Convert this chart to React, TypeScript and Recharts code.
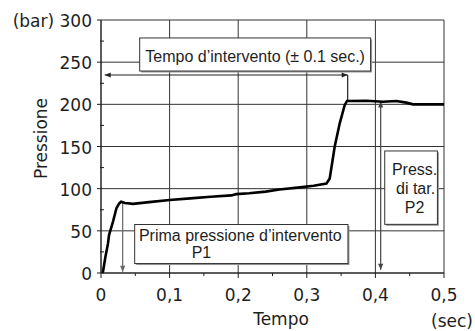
import { CartesianGrid, Label, Line, LineChart, ReferenceArea, ReferenceLine, XAxis, YAxis } from "recharts";

const time = [
  0.002, 0.003, 0.0064, 0.0102, 0.0117, 0.0175, 0.0224, 0.0265, 0.0293, 0.035, 0.0467, 0.07, 0.1, 0.13, 0.16, 0.19,
  0.197, 0.216, 0.24, 0.26, 0.29, 0.31, 0.3286, 0.3334, 0.3407, 0.348, 0.3552, 0.3586, 0.387, 0.411, 0.4306, 0.445,
  0.455, 0.5,
];
const pressure = [
  0, 2, 19, 35, 45, 61, 76.5, 82.5, 84.5, 83, 82, 84, 86.5, 88.5, 90.5, 92, 93.5, 94.5, 96.5, 99, 101.5, 103.5, 106,
  112, 150, 177.5, 199, 204, 204.3, 203, 204, 202, 200, 200,
];
const xTicks = [0, 0.1, 0.2, 0.3, 0.4, 0.5];
const xMinorTicks = [0.05, 0.15, 0.25, 0.35, 0.45];
const yTicks = [0, 50, 100, 150, 200, 250, 300];
const yMinorTicks = [25, 75, 125, 175, 225, 275];

const data = time.map((t, i) => ({ t, p: pressure[i] }));

const INK = "#1e1e1e";
const AXIS_FONT = "'DejaVu Sans', Verdana, sans-serif";
const BOX_FONT = "'Liberation Sans', Arial, sans-serif";

function XTick({ x, y, payload }: any) {
  const major = xTicks.includes(payload.value);
  return (
    <g>
      <line x1={x} x2={x} y1={y} y2={y + (major ? 5 : 3)} stroke={INK} />
      {major && (
        <text x={x} y={y + 27.5} textAnchor="middle" fontSize={17} fontFamily={AXIS_FONT} fill={INK}>
          {String(payload.value).replace(".", ",")}
        </text>
      )}
    </g>
  );
}

function YTick({ x, y, payload }: any) {
  const major = yTicks.includes(payload.value);
  return (
    <g>
      <line x1={x - (major ? 4 : 1)} x2={x + (major ? 0 : 3)} y1={y} y2={y} stroke={INK} />
      {major && (
        <text x={x - 9} y={y + 7} textAnchor="end" fontSize={17} fontFamily={AXIS_FONT} fill={INK}>
          {payload.value === 300 ? "(bar) 300" : payload.value}
        </text>
      )}
    </g>
  );
}

function head(x: number, y: number, ang: number, color: string) {
  const len = 6;
  const w = 2.6;
  const bx = x - len * Math.cos(ang);
  const by = y - len * Math.sin(ang);
  const px = -Math.sin(ang) * w;
  const py = Math.cos(ang) * w;
  return <polygon points={`${x},${y} ${bx + px},${by + py} ${bx - px},${by - py}`} fill={color} />;
}

const arrow = (color: string, startHead: boolean, endHead: boolean) => (props: any) => {
  const { x1, y1, x2, y2 } = props;
  const ang = Math.atan2(y2 - y1, x2 - x1);
  return (
    <g>
      <line x1={x1} y1={y1} x2={x2} y2={y2} stroke={color} strokeWidth={1.2} />
      {startHead && head(x1, y1, ang + Math.PI, color)}
      {endHead && head(x2, y2, ang, color)}
    </g>
  );
};

type BoxLine = { text: string; dx: number; dy: number; anchor?: "start" | "middle" | "end" };

const box = (lines: BoxLine[]) => (props: any) => {
  const { x, y, width, height } = props;
  return (
    <g>
      <rect x={x + 1.5} y={y + 1.5} width={width} height={height} fill="#9a9a9a" />
      <rect x={x} y={y} width={width} height={height} fill="#fff" stroke="#333" strokeWidth={1} />
      {lines.map((l, i) => (
        <text
          key={i}
          x={l.anchor === "start" ? x + l.dx : x + width / 2 + l.dx}
          y={y + l.dy}
          textAnchor={l.anchor ?? "middle"}
          fontSize={16}
          fontFamily={BOX_FONT}
          fill={INK}
        >
          {l.text}
        </text>
      ))}
    </g>
  );
};

export default function App() {
  return (
    <div style={{ position: "absolute", left: 0, top: 0, background: "#fff" }}>
      <LineChart width={475} height={331} data={data} margin={{ top: 20, right: 31, bottom: 0, left: 0 }}>
        <CartesianGrid stroke="#333" horizontalValues={yTicks} verticalValues={xTicks} />
        <XAxis
          dataKey="t"
          type="number"
          domain={[0, 0.5]}
          ticks={[...xTicks, ...xMinorTicks].sort((a, b) => a - b)}
          interval={0}
          height={58}
          tickSize={0}
          tickMargin={0}
          tickLine={false}
          tick={<XTick />}
          axisLine={{ stroke: INK }}
        >
          <Label
            content={({ viewBox }: any) => (
              <g fontSize={17} fontFamily={AXIS_FONT} fill={INK}>
                <text x={viewBox.x + viewBox.width / 2 + 8.5} y={viewBox.y + 52} textAnchor="middle">
                  Tempo
                </text>
                <text x={viewBox.x + viewBox.width + 29} y={viewBox.y + 54} textAnchor="end">
                  (sec)
                </text>
              </g>
            )}
          />
        </XAxis>
        <YAxis
          type="number"
          domain={[0, 300]}
          ticks={[...yTicks, ...yMinorTicks].sort((a, b) => a - b)}
          interval={0}
          width={101}
          tickSize={0}
          tickMargin={0}
          tickLine={false}
          tick={<YTick />}
          axisLine={{ stroke: INK }}
        >
          <Label
            content={({ viewBox }: any) => (
              <text
                x={46.5}
                y={138.5}
                transform="rotate(-90 46.5 138.5)"
                textAnchor="middle"
                fontSize={17}
                fontFamily={AXIS_FONT}
                fill={INK}
              >
                Pressione
              </text>
            )}
          />
        </YAxis>
        <ReferenceArea
          x1={0.0564}
          x2={0.393}
          y1={239.5}
          y2={278.7}
          shape={box([{ text: "Tempo d\u2019intervento (\u00b1 0.1 sec.)", dx: 0, dy: 24.5 }])}
        />
        <ReferenceArea
          x1={0.0491}
          x2={0.36}
          y1={11.2}
          y2={57.5}
          shape={box([
            { text: "Prima pressione d\u2019intervento", dx: -1, dy: 16.5 },
            { text: "P1", dx: 57, dy: 33.5, anchor: "start" },
          ])}
        />
        <ReferenceArea
          x1={0.4136}
          x2={0.4904}
          y1={57.7}
          y2={144.7}
          shape={box([
            { text: "Press.", dx: 3.5, dy: 24.5 },
            { text: "di tar.", dx: 4.5, dy: 43.5 },
            { text: "P2", dx: 3.5, dy: 62 },
          ])}
        />
        <ReferenceLine
          segment={[
            { x: 0.0054, y: 234.8 },
            { x: 0.3596, y: 234.8 },
          ]}
          shape={arrow("#222", true, true)}
        />
        <ReferenceLine
          segment={[
            { x: 0.3596, y: 234.8 },
            { x: 0.3596, y: 204 },
          ]}
          shape={arrow("#222", false, false)}
        />
        <ReferenceLine
          segment={[
            { x: 0.0316, y: 84 },
            { x: 0.0316, y: 1.5 },
          ]}
          shape={arrow("#666", false, true)}
        />
        <ReferenceLine
          segment={[
            { x: 0.4077, y: 203.5 },
            { x: 0.4077, y: 4 },
          ]}
          shape={arrow("#444", true, true)}
        />
        <Line dataKey="p" stroke="#000" strokeWidth={2.6} dot={false} isAnimationActive={false} />
      </LineChart>
    </div>
  );
}
